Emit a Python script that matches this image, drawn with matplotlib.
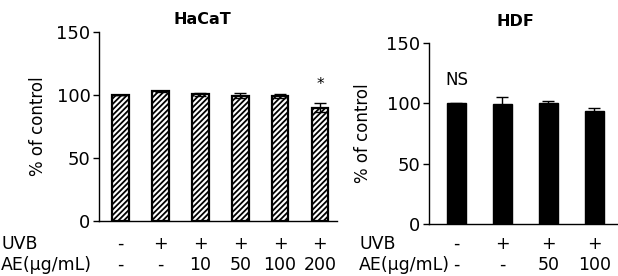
import matplotlib
matplotlib.use("Agg")
import matplotlib.pyplot as plt
from matplotlib.transforms import blended_transform_factory

plt.rcParams['font.family'] = ['DejaVu Sans']
plt.rcParams['hatch.linewidth'] = 1.3

# HaCaT data
hacat_uvb = ['-', '+', '+', '+', '+', '+']
hacat_ae = ['-', '-', '10', '50', '100', '200']
hacat_vals = [100, 103, 100.5, 99.5, 99, 90]
hacat_err = [0.3, 0.5, 1.5, 2.2, 1.5, 3.5]

# HDF data
hdf_uvb = ['-', '+', '+', '+']
hdf_ae = ['-', '-', '50', '100']
hdf_vals = [100, 99.2, 100, 94]
hdf_err = [0.5, 6, 2, 2]

fig = plt.figure(figsize=(6.18, 2.76), dpi=100)
ax1 = fig.add_axes([0.160, 0.199, 0.385, 0.685])
ax2 = fig.add_axes([0.694, 0.188, 0.305, 0.656])


def style(ax, lx):
    ax.set_ylim(0, 150)
    ax.set_yticks([0, 50, 100, 150])
    ax.spines['top'].set_visible(False)
    ax.spines['right'].set_visible(False)
    ax.spines['left'].set_linewidth(1.0)
    ax.spines['bottom'].set_linewidth(1.0)
    ax.set_xticks([])
    ax.tick_params(axis='y', labelsize=13, length=4, width=1, pad=2)
    ax.set_ylabel('% of control', fontsize=12)
    ax.yaxis.set_label_coords(lx, 0.5)


# left panel
x1 = list(range(len(hacat_vals)))
ax1.bar(x1, hacat_vals, width=0.42, color='white', edgecolor='black',
        linewidth=1.6, hatch='//////', yerr=hacat_err,
        error_kw=dict(ecolor='black', elinewidth=1, capsize=4, capthick=1))
ax1.set_xlim(-0.55, 5.425)
style(ax1, -0.218)
fig.text(202 / 618, 1 - 19 / 276, 'HaCaT', ha='center', va='center',
         fontsize=11.5, fontweight='bold')
ax1.text(5, 108, '*', ha='center', va='center', fontsize=11)

tr1 = blended_transform_factory(ax1.transData, fig.transFigure)
for i in x1:
    ax1.text(i, 0.116, hacat_uvb[i], transform=tr1, ha='center', va='center',
             fontsize=12.5, clip_on=False)
    ax1.text(i, 0.040, hacat_ae[i], transform=tr1, ha='center', va='center',
             fontsize=12.5, clip_on=False)
fig.text(0.002, 0.116, 'UVB', ha='left', va='center', fontsize=12.5)
fig.text(0.002, 0.040, 'AE(μg/mL)', ha='left', va='center', fontsize=12.5)

# right panel
x2 = list(range(len(hdf_vals)))
ax2.bar(x2, hdf_vals, width=0.4, color='black', edgecolor='black',
        linewidth=1, yerr=hdf_err,
        error_kw=dict(ecolor='black', elinewidth=1, capsize=4, capthick=1))
ax2.set_xlim(-0.6, 3.5)
style(ax2, -0.30)
fig.text(515 / 618, 1 - 21 / 276, 'HDF', ha='center', va='center',
         fontsize=11.5, fontweight='bold')
ax2.text(0, 119, 'NS', ha='center', va='center', fontsize=12)

tr2 = blended_transform_factory(ax2.transData, fig.transFigure)
for i in x2:
    ax2.text(i, 0.116, hdf_uvb[i], transform=tr2, ha='center', va='center',
             fontsize=12.5, clip_on=False)
    ax2.text(i, 0.040, hdf_ae[i], transform=tr2, ha='center', va='center',
             fontsize=12.5, clip_on=False)
fig.text(0.581, 0.116, 'UVB', ha='left', va='center', fontsize=12.5)
fig.text(0.581, 0.040, 'AE(μg/mL)', ha='left', va='center', fontsize=12.5)

plt.savefig('out.png', dpi=100)
plt.close()
